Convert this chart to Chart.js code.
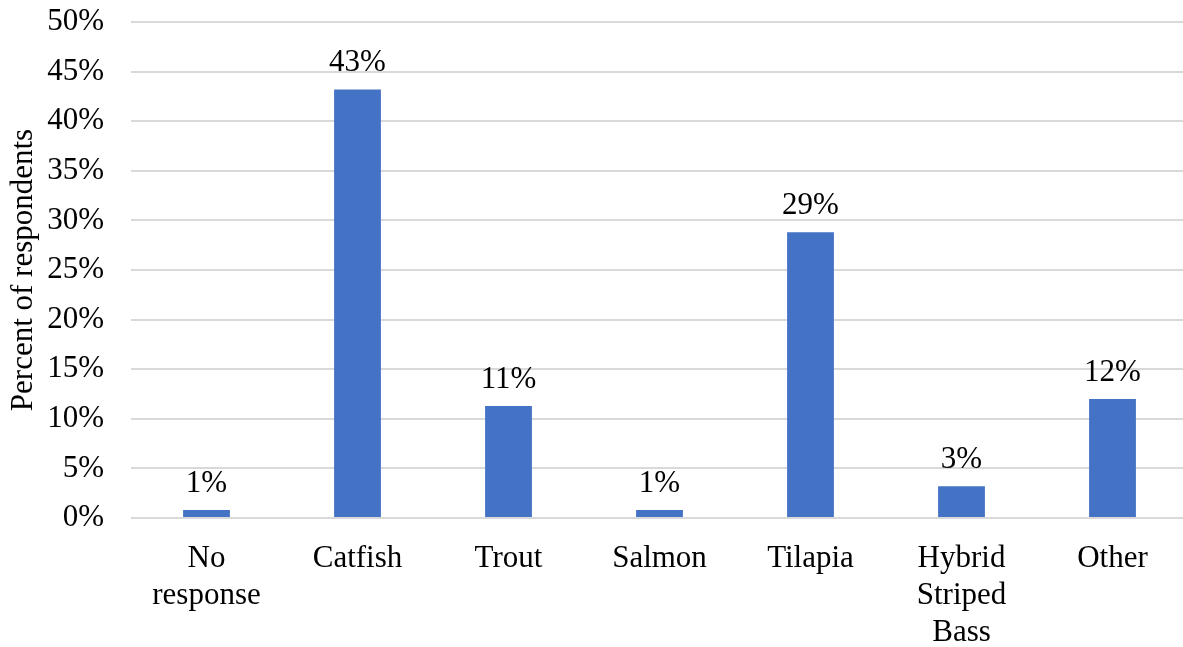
<!DOCTYPE html>
<html>
<head>
<meta charset="utf-8">
<script src="https://cdn.jsdelivr.net/npm/chart.js@4"></script>
<style>
	html, body { margin: 0; padding: 0; background: #fff; overflow: hidden; }
	#wrap { width: 1188px; height: 647px; }
</style>
</head>
<body>
<div id="wrap"><canvas id="chart" width="1188" height="647"></canvas></div>
<script>
const categories = [['No', 'response'], 'Catfish', 'Trout', 'Salmon', 'Tilapia', ['Hybrid', 'Striped', 'Bass'], 'Other']
const percents = [0.8, 43.2, 11.3, 0.8, 28.8, 3.2, 12.0]
const yTicks = [0, 5, 10, 15, 20, 25, 30, 35, 40, 45, 50]

const font = { family: '"Liberation Serif", "Times New Roman", serif', size: 31 }

// labels above each bar, rounded like the original
const barLabels = {
	id: 'barLabels',
	afterDatasetsDraw(chart) {
		const ctx = chart.ctx
		const meta = chart.getDatasetMeta(0)
		ctx.save()
		ctx.font = `${font.size}px ${font.family}`
		ctx.fillStyle = '#000'
		ctx.textAlign = 'center'
		ctx.textBaseline = 'alphabetic'
		meta.data.forEach((bar, i) => {
			ctx.fillText(Math.round(percents[i]) + '%', bar.x, bar.y - 18)
		})
		ctx.restore()
	}
}

new Chart(document.getElementById('chart'), {
	type: 'bar',
	data: {
		labels: categories,
		datasets: [{
			data: percents,
			backgroundColor: '#4472C4',
			barPercentage: 0.62,
			categoryPercentage: 0.5
		}]
	},
	options: {
		responsive: false,
		animation: false,
		layout: { padding: { top: 22, right: 0, bottom: 0, left: 0 } },
		plugins: {
			legend: { display: false },
			tooltip: { enabled: false }
		},
		scales: {
			x: {
				grid: { display: false, drawTicks: false },
				border: { display: false },
				ticks: { color: '#000', font: { ...font, lineHeight: 1.2 }, padding: 22, maxRotation: 0, autoSkip: false },
				afterFit: (axis) => {
					axis.height = 129
					axis.paddingTop = 0
					axis.paddingBottom = 0
				}
			},
			y: {
				min: 0,
				max: 50,
				afterBuildTicks: (axis) => { axis.ticks = yTicks.map(v => ({ value: v })) },
				grid: { color: '#d9d9d9', lineWidth: 2, drawTicks: false },
				border: { display: false },
				ticks: { color: '#000', font, padding: 27, callback: v => v + '%' },
				title: { display: true, text: 'Percent of respondents', color: '#000', font, padding: { top: 5, bottom: 0 } },
				afterFit: (axis) => {
					axis.width = 131
					axis.paddingTop = 0
					axis.paddingBottom = 0
				}
			}
		}
	},
	plugins: [barLabels]
})
</script>
</body>
</html>
